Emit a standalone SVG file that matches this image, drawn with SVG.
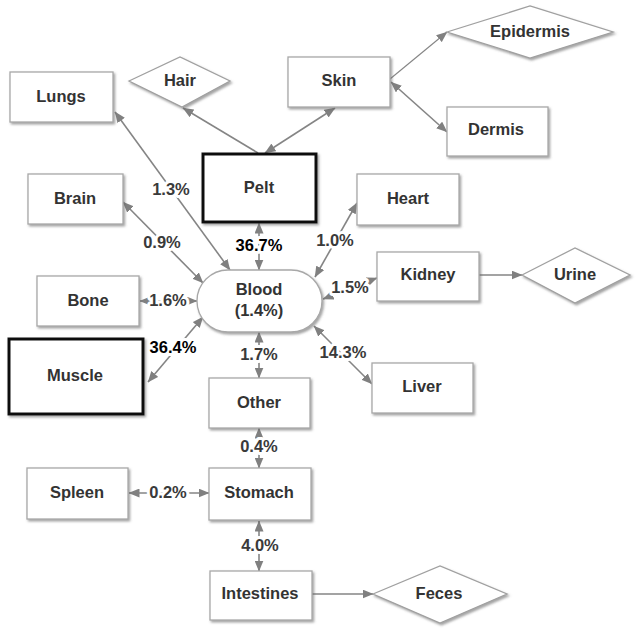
<svg xmlns="http://www.w3.org/2000/svg" width="638" height="633" viewBox="0 0 638 633">
<style>
  .box { fill:#fff; stroke:#a8a8a8; stroke-width:1.3; filter:url(#sh); }
  .thick { fill:#fff; stroke:#111; stroke-width:3; filter:url(#sh); }
  .dia { fill:#fff; stroke:#a0a0a0; stroke-width:1.3; filter:url(#sh); }
  .t { font-family:"Liberation Sans", Arial, sans-serif; font-size:16.5px; font-weight:bold; fill:#333; text-anchor:middle; }
  .lbl { font-family:"Liberation Sans", Arial, sans-serif; font-size:16.5px; font-weight:bold; fill:#3a3a3a; text-anchor:middle; stroke:#fff; stroke-width:6; paint-order:stroke; stroke-linejoin:round; }
  .big { fill:#000; }
  .c { stroke:#858585; stroke-width:1.6; fill:none; }
  .two { marker-start:url(#ah); marker-end:url(#ah); }
  .one { marker-end:url(#ah); }
</style>
<defs>
  <filter id="sh" x="-10%" y="-10%" width="130%" height="140%">
    <feDropShadow dx="1.5" dy="1.8" stdDeviation="0.9" flood-color="#666" flood-opacity="0.6"/>
  </filter>
  <marker id="ah" markerUnits="userSpaceOnUse" markerWidth="11" markerHeight="9" refX="10.5" refY="4.5" orient="auto-start-reverse">
    <path d="M0,0 L11,4.5 L0,9 z" fill="#808080"/>
  </marker>
</defs>

<g id="connectors">
  <line class="c one" x1="258" y1="153" x2="183" y2="108"/>
  <line class="c two" x1="265" y1="153" x2="335" y2="108"/>
  <line class="c one" x1="390" y1="79" x2="447" y2="32" style="stroke-width:1.1"/>
  <line class="c two" x1="391" y1="82" x2="447" y2="132"/>
  <line class="c two" x1="115" y1="112" x2="230" y2="270"/>
  <line class="c two" x1="123" y1="202" x2="203" y2="283"/>
  <line class="c two" x1="259" y1="223" x2="259" y2="270"/>
  <line class="c two" x1="357" y1="203" x2="315" y2="277"/>
  <line class="c two" x1="377" y1="278" x2="323" y2="299"/>
  <line class="c one" x1="479" y1="275" x2="522" y2="275"/>
  <line class="c two" x1="314" y1="326" x2="372" y2="384"/>
  <line class="c two" x1="140" y1="301" x2="197" y2="301"/>
  <line class="c two" x1="148" y1="382" x2="203" y2="317"/>
  <line class="c two" x1="259" y1="332" x2="259" y2="378"/>
  <line class="c two" x1="259" y1="428" x2="259" y2="468"/>
  <line class="c two" x1="129" y1="493" x2="209" y2="493"/>
  <line class="c two" x1="259" y1="521" x2="259" y2="571"/>
  <line class="c one" x1="312" y1="594" x2="373" y2="594"/>

  <text class="lbl" x="171" y="195">1.3%</text>
  <text class="lbl" x="162" y="248">0.9%</text>
  <text class="lbl big" x="259" y="251">36.7%</text>
  <text class="lbl" x="335" y="246">1.0%</text>
  <text class="lbl" x="350" y="293">1.5%</text>
  <text class="lbl" x="343" y="358">14.3%</text>
  <text class="lbl" x="168" y="306">1.6%</text>
  <text class="lbl big" x="173" y="353">36.4%</text>
  <text class="lbl" x="259" y="360">1.7%</text>
  <text class="lbl" x="259" y="452">0.4%</text>
  <text class="lbl" x="168" y="498">0.2%</text>
  <text class="lbl" x="260" y="551">4.0%</text>
</g>

<g id="lungs"><rect class="box" x="10" y="72" width="103" height="50"/><text class="t" x="61" y="101.5">Lungs</text></g>
<g id="hair"><polygon class="dia" points="129,81 180,57 230,81 182,107"/><text class="t" x="180" y="86">Hair</text></g>
<g id="skin"><rect class="box" x="288" y="57" width="102" height="50"/><text class="t" x="339" y="86">Skin</text></g>
<g id="epidermis"><polygon class="dia" points="447,32 530,6 613,32 530,58"/><text class="t" x="530" y="37">Epidermis</text></g>
<g id="dermis"><rect class="box" x="447" y="107" width="101" height="49"/><text class="t" x="496" y="135">Dermis</text></g>
<g id="pelt"><rect class="thick" x="203" y="154" width="113" height="68"/><text class="t" x="259" y="193">Pelt</text></g>
<g id="brain"><rect class="box" x="28" y="174" width="95" height="50"/><text class="t" x="75" y="204">Brain</text></g>
<g id="heart"><rect class="box" x="357" y="174" width="102" height="51"/><text class="t" x="408" y="204">Heart</text></g>
<g id="blood"><rect class="box" x="197" y="270" width="125" height="62" rx="31" ry="31"/><text class="t" x="259" y="295">Blood</text><text class="t" x="259" y="316">(1.4%)</text></g>
<g id="kidney"><rect class="box" x="377" y="252" width="102" height="49"/><text class="t" x="428" y="280">Kidney</text></g>
<g id="urine"><polygon class="dia" points="522,275 575,248 630,275 575,303"/><text class="t" x="575" y="280">Urine</text></g>
<g id="bone"><rect class="box" x="37" y="276" width="102" height="50"/><text class="t" x="88" y="306">Bone</text></g>
<g id="muscle"><rect class="thick" x="9" y="339" width="134" height="75"/><text class="t" x="75" y="381">Muscle</text></g>
<g id="liver"><rect class="box" x="372" y="363" width="101" height="50"/><text class="t" x="422" y="392">Liver</text></g>
<g id="other"><rect class="box" x="209" y="378" width="101" height="50"/><text class="t" x="259" y="408">Other</text></g>
<g id="spleen"><rect class="box" x="27" y="468" width="101" height="51"/><text class="t" x="77" y="498">Spleen</text></g>
<g id="stomach"><rect class="box" x="209" y="468" width="102" height="52"/><text class="t" x="259" y="498">Stomach</text></g>
<g id="intestines"><rect class="box" x="210" y="571" width="102" height="49"/><text class="t" x="260" y="599">Intestines</text></g>
<g id="feces"><polygon class="dia" points="373,594 440,566 507,594 440,623"/><text class="t" x="439" y="599">Feces</text></g>
</svg>
